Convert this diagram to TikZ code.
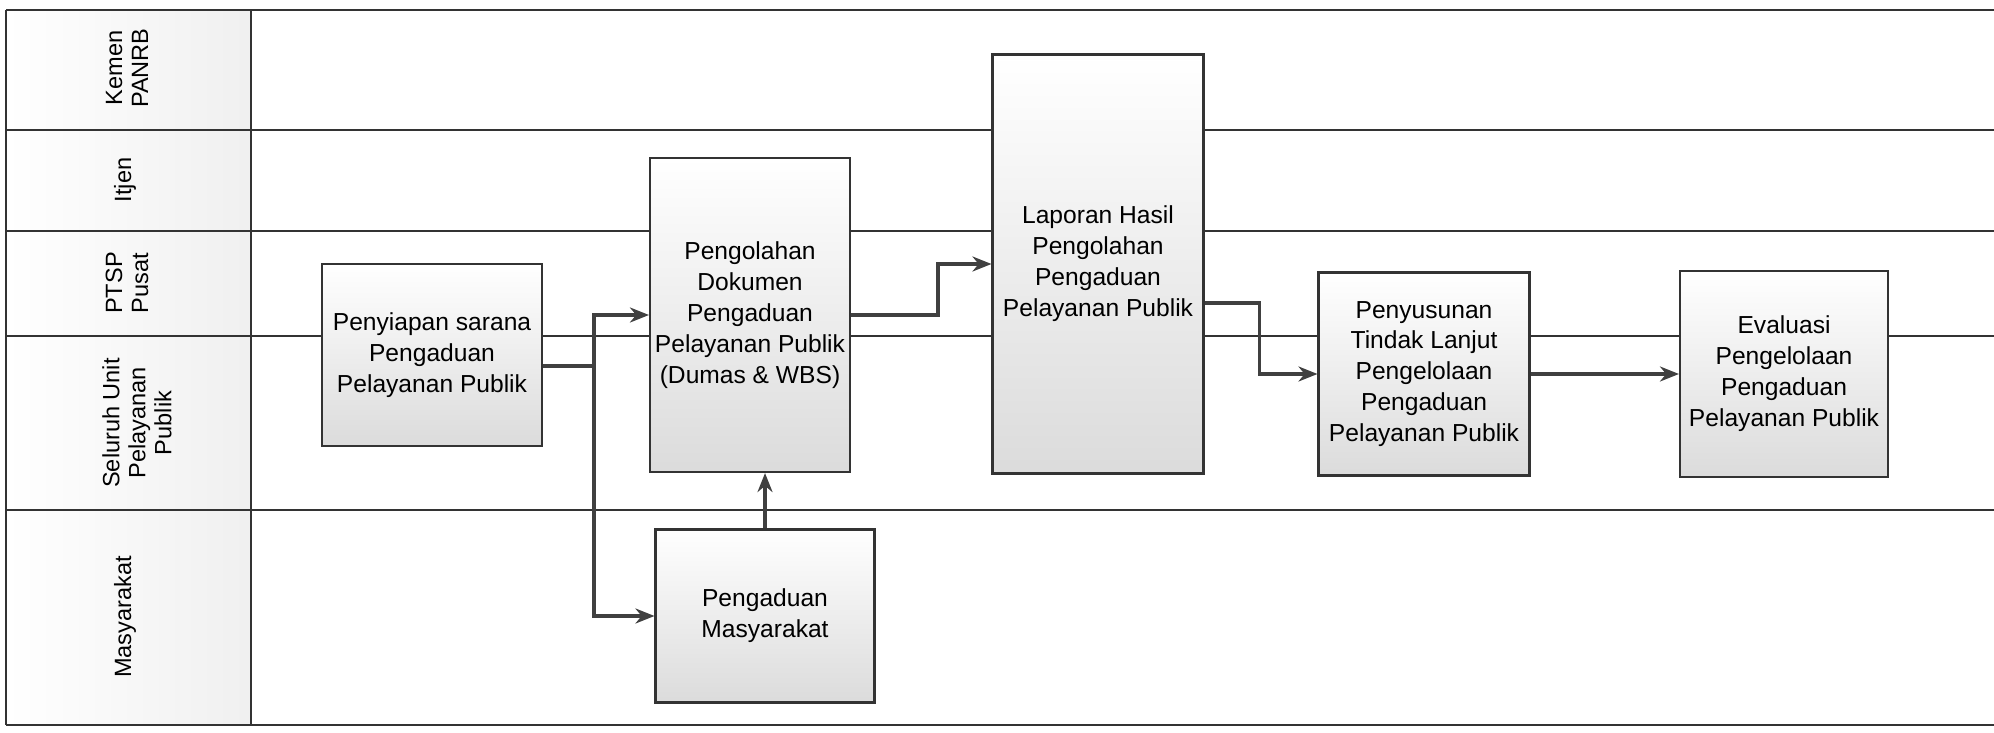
\documentclass[tikz,border=0pt]{standalone}
\usepackage{fontspec}
\setmainfont{Liberation Sans}
\usetikzlibrary{arrows.meta}

\begin{document}
\begin{tikzpicture}[x=0.1mm, y=-0.1mm,
        lane/.style={draw=black!80, line width=0.6pt},
        head/.style={rotate=90, align=center, font=\fontsize{6.7}{7.4}\selectfont},
        proc/.style={draw=black!80, line width=0.6pt, rectangle, inner sep=0.5pt, top color=white, bottom color=black!14, align=center, font=\fontsize{7}{8.8}\selectfont},
        flow/.style={draw=black!75, line width=0.9pt, -{Stealth[length=1.9mm, width=1.5mm]}}]
    \useasboundingbox (0,0) rectangle (1994,733);

    % lanes
    \shade[left color=white, right color=black!6] (6,10) rectangle (251,725);
    \draw[lane] (6,10) -- (6,725);
    \draw[lane] (251,10) -- (251,725);
    \draw[lane] (6,10) -- (1994,10);
    \draw[lane] (6,130) -- (1994,130);
    \draw[lane] (6,231) -- (1994,231);
    \draw[lane] (6,336) -- (1994,336);
    \draw[lane] (6,510) -- (1994,510);
    \draw[lane] (6,725) -- (1994,725);

    \node (hkem) [head] at (127,68) {Kemen\\PANRB};
    \node (hitj) [head] at (125,180) {Itjen};
    \node (hptsp) [head] at (127,283) {PTSP\\Pusat};
    \node (hunit) [head] at (137,423) {Seluruh Unit\\Pelayanan\\Publik};
    \node (hmas) [head] at (125,617) {Masyarakat};

    % steps
    \node (pen) [proc, minimum width=22mm, minimum height=18.2mm] at (432,355) {Penyiapan sarana\\Pengaduan\\Pelayanan Publik};
    \node (olah) [proc, minimum width=20mm, minimum height=31.4mm] at (750,315) {Pengolahan\\Dokumen\\Pengaduan\\Pelayanan Publik\\(Dumas \& WBS)};
    \node (adu) [proc, minimum width=21.9mm, minimum height=17.3mm] at (765,616) {Pengaduan\\Masyarakat};
    \node (lap) [proc, minimum width=21.1mm, minimum height=41.9mm] at (1098,264) {Laporan Hasil\\Pengolahan\\Pengaduan\\Pelayanan Publik};
    \node (sus) [proc, minimum width=21.1mm, minimum height=20.3mm] at (1424,374) {Penyusunan\\Tindak Lanjut\\Pengelolaan\\Pengaduan\\Pelayanan Publik};
    \node (eva) [proc, minimum width=20.8mm, minimum height=20.6mm] at (1784,374) {Evaluasi\\Pengelolaan\\Pengaduan\\Pelayanan Publik};

    \coordinate (split) at (594,366);
    \draw[draw=black!75, line width=0.9pt] (pen.east |- split) -- (split);
    \draw[flow] (split) |- (olah.west);
    \draw[flow] (split) |- (adu.west);
    \draw[flow] (adu.north) -- (adu.north |- olah.south);
    \draw[flow] (olah.east) -- ++(87,0) |- (lap.west);
    \draw[flow] ([yshift=-3.9mm]lap.east) -- ++(55,0) |- (sus.west);
    \draw[flow] (sus.east) -- (eva.west);
\end{tikzpicture}
\end{document}
